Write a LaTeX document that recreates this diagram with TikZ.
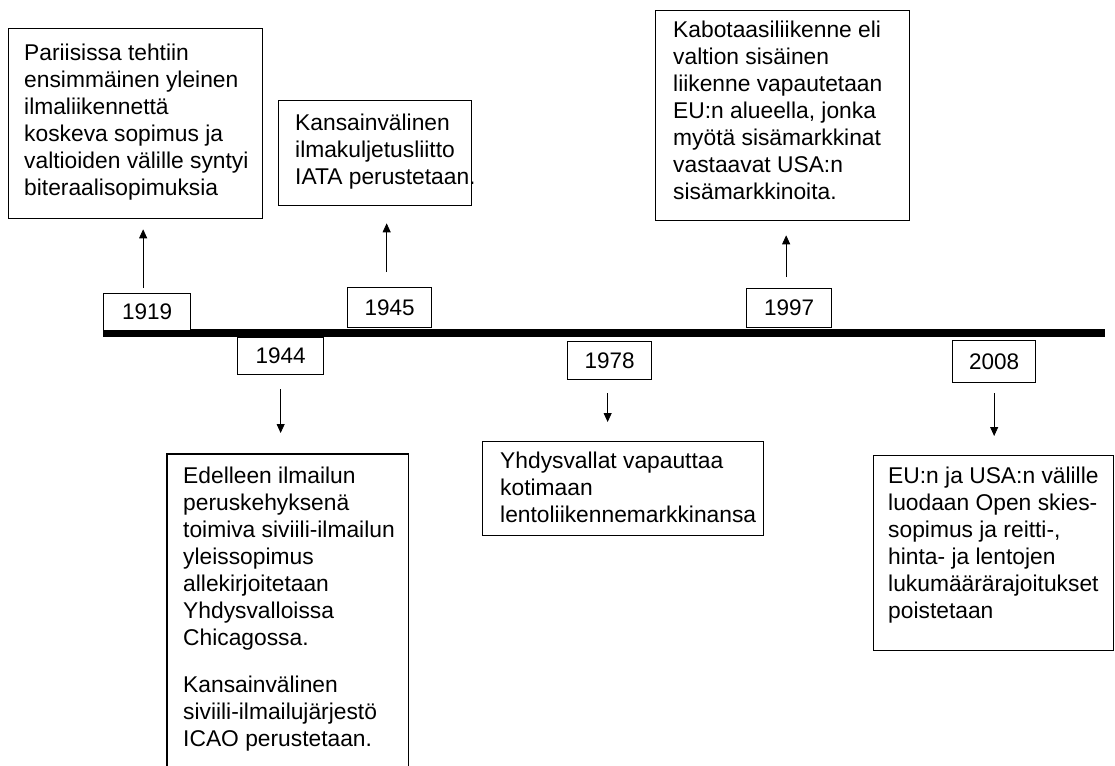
\documentclass[tikz,border=0pt]{standalone}
\usepackage{fontspec}
\setmainfont{Liberation Sans}
\usetikzlibrary{arrows.meta}
\newcommand\capstrut{\rule{0pt}{17pt}}
\tikzset{
  box/.style={draw, line width=1.3pt, rectangle, inner sep=0pt, anchor=north west},
  yearbox/.style={draw, line width=1.3pt, rectangle, inner sep=0pt, anchor=north west, fill=white, font=\fontsize{22.5}{27}\selectfont},
  txt/.style={anchor=north west, inner sep=0pt, align=left, font=\fontsize{22.8}{27}\selectfont},
  arr/.style={line width=0.8pt, -{Triangle[length=9pt,width=8pt]}}
}
\begin{document}
\begin{tikzpicture}[x=1pt,y=-1pt]
\useasboundingbox (0,0) rectangle (1115,765);
% timeline bar
\coordinate (barL) at (103,333);
\coordinate (barR) at (1105,333);
\draw[line width=8pt] (barL) -- (barR);
% year boxes
\node[yearbox, minimum width=87pt, minimum height=37pt] (y1919) at (103,293) {1919};
\node[yearbox, minimum width=86pt, minimum height=37pt] (y1944) at (237,337) {1944};
\node[yearbox, minimum width=84pt, minimum height=40pt] (y1945) at (347,287) {1945};
\node[yearbox, minimum width=84pt, minimum height=38pt] (y1978) at (567,341) {1978};
\node[yearbox, minimum width=85pt, minimum height=39pt] (y1997) at (746,288) {1997};
\node[yearbox, minimum width=83pt, minimum height=42pt] (y2008) at (952,340) {2008};
% text boxes
\node[box, minimum width=254pt, minimum height=190pt] (b1919) at (8,28) {};
\node[txt] (t1919) at (24,43) {\capstrut Pariisissa tehtiin\\ensimmäinen yleinen\\ilmaliikennettä\\koskeva sopimus ja\\valtioiden välille syntyi\\biteraalisopimuksia};
\node[box, minimum width=193pt, minimum height=105pt] (b1945) at (278,100) {};
\node[txt] (t1945) at (295,113) {\capstrut Kansainvälinen\\ilmakuljetusliitto\\IATA perustetaan.};
\node[box, minimum width=254pt, minimum height=210pt] (b1997) at (655,10) {};
\node[txt] (t1997) at (673,20) {\capstrut Kabotaasiliikenne eli\\valtion sisäinen\\liikenne vapautetaan\\EU:n alueella, jonka\\myötä sisämarkkinat\\vastaavat USA:n\\sisämarkkinoita.};
\node[box, minimum width=281pt, minimum height=94pt] (b1978) at (482,441) {};
\node[txt] (t1978) at (500,451) {\capstrut Yhdysvallat vapauttaa\\kotimaan\\lentoliikennemarkkinansa};
\node[box, minimum width=240pt, minimum height=195pt] (b2008) at (873,455) {};
\node[txt] (t2008) at (888,466) {\capstrut EU:n ja USA:n välille\\luodaan Open skies-\\sopimus ja reitti-,\\hinta- ja lentojen\\lukumäärärajoitukset\\poistetaan};
% 1944 box, open at the bottom
\node[inner sep=0pt, anchor=north west, minimum width=241pt, minimum height=320pt] (b1944) at (167,454) {};
\draw[line width=1.3pt] (b1944.south west) -- (b1944.north west) -- (b1944.north east) -- (b1944.south east);
\node[txt] (t1944a) at (183,466) {\capstrut Edelleen ilmailun\\peruskehyksenä\\toimiva siviili-ilmailun\\yleissopimus\\allekirjoitetaan\\Yhdysvalloissa\\Chicagossa.};
\node[txt] (t1944b) at (183,675) {\capstrut Kansainvälinen\\siviili-ilmailujärjestö\\ICAO perustetaan.};
% arrows
\draw[arr, shorten <=5pt, shorten >=10pt] ([xshift=-4pt]y1919.north) -- ([xshift=-4pt]y1919.north |- b1919.south);
\draw[arr, shorten <=15pt, shorten >=17pt] ([xshift=-3pt]y1945.north) -- ([xshift=-3pt]y1945.north |- b1945.south);
\draw[arr, shorten <=11pt, shorten >=14pt] ([xshift=-3pt]y1997.north) -- ([xshift=-3pt]y1997.north |- b1997.south);
\draw[arr, shorten <=14pt, shorten >=21pt] (y1944.south) -- (y1944.south |- b1944.north);
\draw[arr, shorten <=13pt, shorten >=19pt] ([xshift=-2pt]y1978.south) -- ([xshift=-2pt]y1978.south |- b1978.north);
\draw[arr, shorten <=10pt, shorten >=19pt] (y2008.south) -- (y2008.south |- b2008.north);
\end{tikzpicture}
\end{document}
